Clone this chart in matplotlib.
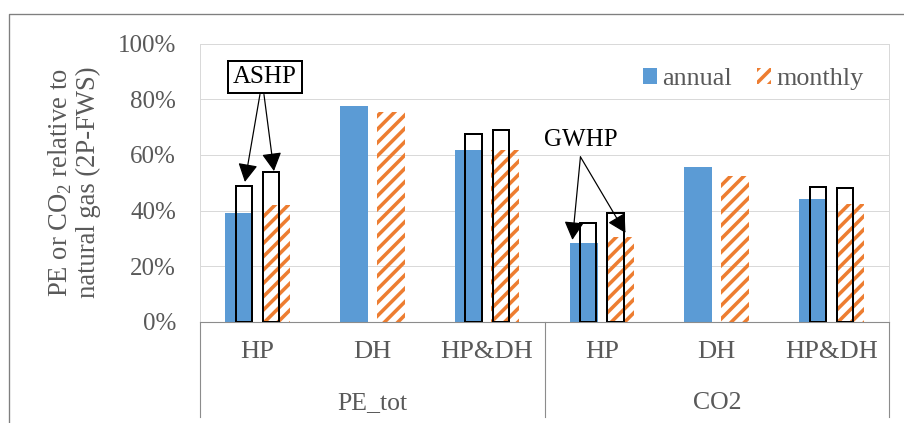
import matplotlib.pyplot as plt
from matplotlib.patches import Patch
from matplotlib.lines import Line2D
import numpy as np

categories = ['HP', 'DH', 'HP&DH', 'HP', 'DH', 'HP&DH']
groups = ['PE_tot', 'CO2']
annual = [39, 77.5, 61.8, 28.5, 55.5, 44]
monthly = [42, 75.5, 61.8, 30.5, 52.5, 42.5]
# outlined bars for the other heat pump type (no value for DH)
alt_annual = [49, np.nan, 67.5, 35.5, np.nan, 48.5]
alt_monthly = [54, np.nan, 69, 39, np.nan, 48]
yticks = [0, 20, 40, 60, 80, 100]

BLUE = '#5B9BD5'
ORANGE = '#ED7D31'
GREY_TXT = '#595959'
GRID = '#D9D9D9'
AXIS = '#8C8C8C'

plt.rcParams['font.family'] = ['Liberation Serif', 'DejaVu Serif']
plt.rcParams['mathtext.fontset'] = 'custom'
plt.rcParams['mathtext.rm'] = 'Liberation Serif'
plt.rcParams['hatch.linewidth'] = 3.2

DPI = 80
fig = plt.figure(figsize=(904 / DPI, 423 / DPI), dpi=DPI)
ax = fig.add_axes([200 / 904, 1 - 322 / 423, 689 / 904, 278.5 / 423])

x = np.arange(len(categories))
ax.bar(x - 0.16, annual, 0.244, color=BLUE, linewidth=0, zorder=2)
ax.bar(x + 0.16, monthly, 0.244, facecolor='none', edgecolor=ORANGE,
       hatch='//', linewidth=0, zorder=2)

alt_a = np.array(alt_annual)
alt_m = np.array(alt_monthly)
ma = ~np.isnan(alt_a)
mm = ~np.isnan(alt_m)
ax.bar(x[ma] - 0.118, alt_a[ma], 0.14, fill=False, edgecolor='black',
       linewidth=1.8, zorder=3)
ax.bar(x[mm] + 0.118, alt_m[mm], 0.14, fill=False, edgecolor='black',
       linewidth=1.8, zorder=3)

ax.set_xlim(-0.5, len(categories) - 0.5)
ax.set_ylim(0, 100)
ax.set_yticks(yticks)
ax.set_yticklabels([f'{v}%' for v in yticks])
ax.set_xticks(x)
ax.set_xticklabels(categories)
ax.tick_params(axis='y', length=0, pad=21.6, labelsize=22.5, labelcolor=GREY_TXT)
ax.tick_params(axis='x', length=0, pad=17.5, labelsize=23.8, labelcolor=GREY_TXT)
ax.yaxis.grid(True, color=GRID, linewidth=0.9)
ax.set_axisbelow(True)
for s in ['top', 'right', 'left']:
    ax.spines[s].set_color(GRID)
    ax.spines[s].set_linewidth(0.9)
ax.spines['bottom'].set_color(AXIS)
ax.spines['bottom'].set_linewidth(1.0)

# second category level and its separators
trans = ax.get_xaxis_transform()
for i, g in enumerate(groups):
    ax.text(3 * i + 1, -0.291, g, transform=trans, ha='center', va='center',
            fontsize=23.2, color=GREY_TXT)
for xs in [-0.5, 2.5, 5.5]:
    ax.plot([xs, xs], [0, -0.342], transform=trans, color=AXIS, lw=1.0,
            clip_on=False)

fig.text(74 / 904, 1 - 182.5 / 423,
         'PE or CO$_{\\mathregular{2}}$ relative to\nnatural gas (2P-FWS)',
         rotation=90, ha='center', va='center', ma='center',
         fontsize=24, color=GREY_TXT, linespacing=1.1)

arrow = dict(arrowstyle='-|>,head_length=0.5,head_width=0.27', color='black',
             lw=1.1, mutation_scale=28, shrinkA=0, shrinkB=0)

ax.text(0.065, 87.8, 'ASHP', ha='center', va='center', fontsize=22.5,
        color='black', zorder=5,
        bbox=dict(boxstyle='square,pad=0.2', facecolor='white',
                  edgecolor='black', linewidth=1.8))
ax.annotate('', xy=(-0.109, 50.3), xytext=(0.022, 81.7), arrowprops=arrow, zorder=4)
ax.annotate('', xy=(0.144, 54.2), xytext=(0.057, 81.7), arrowprops=arrow, zorder=4)

ax.text(2.813, 65.4, 'GWHP', ha='center', va='center', fontsize=22.5,
        color='black', zorder=5)
ax.annotate('', xy=(2.743, 29.5), xytext=(2.813, 59.3), arrowprops=arrow, zorder=4)
ax.annotate('', xy=(3.205, 32.0), xytext=(2.813, 59.3), arrowprops=arrow, zorder=4)

handles = [Patch(facecolor=BLUE, linewidth=0),
           Patch(facecolor='none', edgecolor=ORANGE, hatch='//', linewidth=0)]
fig.legend(handles, ['annual', 'monthly'], loc='center left',
           bbox_to_anchor=(643 / 904, 1 - 79 / 423), ncol=2, frameon=False,
           fontsize=23.5, handlelength=0.54, handleheight=0.54,
           handletextpad=0.2, columnspacing=0.95, borderpad=0,
           borderaxespad=0, labelcolor=GREY_TXT)

# outer chart frame
fig.add_artist(Line2D([9 / 904, 9 / 904, 1], [0, 1 - 14 / 423, 1 - 14 / 423],
                      transform=fig.transFigure, color='#7F7F7F', lw=1.2))

fig.savefig('out.png', dpi=DPI)
